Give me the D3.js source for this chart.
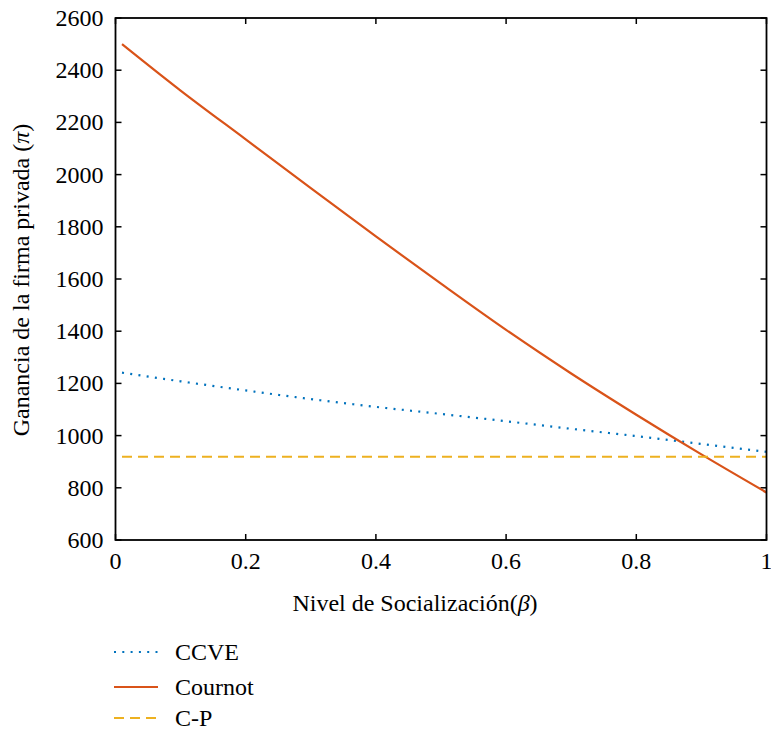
<!DOCTYPE html>
<html><head><meta charset="utf-8">
<script src="https://cdn.jsdelivr.net/npm/d3@7"></script>
<style>
html,body{margin:0;padding:0;background:#fff;font-family:"Liberation Serif","Times New Roman",Tinos,serif !important}
svg{display:block}
svg text, svg tspan{font-family:"Liberation Serif","Times New Roman",Tinos,serif !important}
</style>
</head><body>
<svg id="c" width="771" height="733"></svg>
<script>
const beta = [0.01,0.1,0.2,0.3,0.4,0.5,0.6,0.7,0.8,0.9,1.0];
const ccve = [1241,1208,1173,1140,1110,1083,1055,1026,998,968,938];
const cournot = [2500,2322,2135,1948,1763,1582,1405,1238,1080,928,782];
const cp = [919,919,919,919,919,919,919,919,919,919,919];
const xTicks = [0,0.2,0.4,0.6,0.8,1];
const yTicks = [600,800,1000,1200,1400,1600,1800,2000,2200,2400,2600];
const seriesNames = ["CCVE","Cournot","C-P"];
const colors = ["#0072BD","#D95319","#EDB120"];
const dashes = ["2,6.3",null,"10,6"];

const FF = '"Liberation Serif", "Times New Roman", Tinos, serif';
const svg = d3.select("#c").style("font-family",FF);
const L=115.5,R=766.5,T=18,B=540;
const x = d3.scaleLinear().domain([0,1]).range([L,R]);
const y = d3.scaleLinear().domain([600,2600]).range([B,T]);
const fmt = d => d===0?"0":d===1?"1":String(d);
const txt = (sel)=>sel.attr("font-family",FF).style("font-family",FF).attr("font-size",24);

const g = svg.append("g");
xTicks.forEach(t=>{
  g.append("line").attr("x1",x(t)).attr("x2",x(t)).attr("y1",B).attr("y2",B-6).attr("stroke","#000").attr("stroke-width",1.5);
  g.append("line").attr("x1",x(t)).attr("x2",x(t)).attr("y1",T).attr("y2",T+6).attr("stroke","#000").attr("stroke-width",1.5);
  txt(g.append("text")).attr("x",x(t)).attr("y",B+29).attr("text-anchor","middle").text(fmt(t));
});
yTicks.forEach(t=>{
  g.append("line").attr("x1",L).attr("x2",L+6).attr("y1",y(t)).attr("y2",y(t)).attr("stroke","#000").attr("stroke-width",1.5);
  g.append("line").attr("x1",R).attr("x2",R-6).attr("y1",y(t)).attr("y2",y(t)).attr("stroke","#000").attr("stroke-width",1.5);
  txt(g.append("text")).attr("x",L-12).attr("y",y(t)+8).attr("text-anchor","end").text(t);
});

const data = [ccve,cournot,cp];
const line = d3.line().x((d,i)=>x(beta[i])).y(d=>y(d)).curve(d3.curveMonotoneX);
svg.append("clipPath").attr("id","clip").append("rect").attr("x",L).attr("y",T).attr("width",R-L).attr("height",B-T);
data.forEach((s,k)=>{
  const p = svg.append("path").datum(s).attr("d",line).attr("fill","none")
    .attr("stroke",colors[k]).attr("stroke-width",2.2).attr("clip-path","url(#clip)");
  if(dashes[k]) p.attr("stroke-dasharray",dashes[k]);
});
svg.append("rect").attr("x",L).attr("y",T).attr("width",R-L).attr("height",B-T).attr("fill","none").attr("stroke","#000").attr("stroke-width",1.8);

const xl = txt(svg.append("text")).attr("x",415).attr("y",611).attr("text-anchor","middle");
xl.append("tspan").text("Nivel de Socialización(");
xl.append("tspan").attr("font-style","italic").text("β");
xl.append("tspan").text(")");
const yl = txt(svg.append("text")).attr("transform","translate(29,280) rotate(-90)").attr("text-anchor","middle");
yl.append("tspan").text("Ganancia de la firma privada (");
yl.append("tspan").attr("font-style","italic").text("π");
yl.append("tspan").text(")");

const ly = [652,687,718];
seriesNames.forEach((n,k)=>{
  const l = svg.append("line").attr("x1",114).attr("x2",158).attr("y1",ly[k]).attr("y2",ly[k]).attr("stroke",colors[k]).attr("stroke-width",2.2);
  if(dashes[k]) l.attr("stroke-dasharray",dashes[k]);
  txt(svg.append("text")).attr("x",175).attr("y",ly[k]+8).text(n);
});
</script>
</body></html>
